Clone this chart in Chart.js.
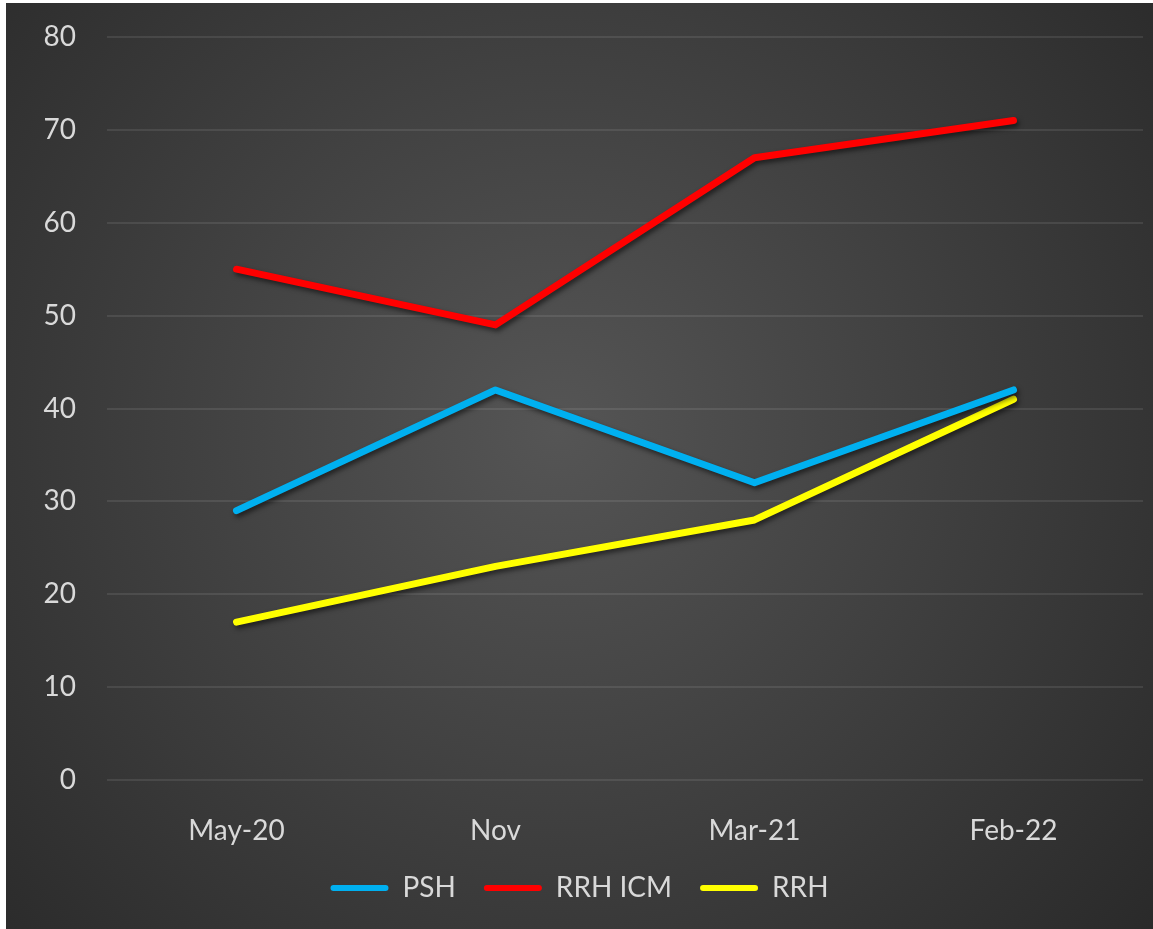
<!DOCTYPE html>
<html>
<head>
<meta charset="utf-8">
<script src="https://cdn.jsdelivr.net/npm/chart.js@4/dist/chart.umd.min.js"></script>
<style>
  html, body { margin: 0; padding: 0; background: #fff; }
  #wrap { position: absolute; left: 6px; top: 3px; width: 1147px; height: 926px; }
</style>
</head>
<body>
<div id="wrap"><canvas id="chart"></canvas></div>
<script>
const categories = ['May-20', 'Nov', 'Mar-21', 'Feb-22'];
const psh     = [29, 42, 32, 42];
const rrhIcm  = [55, 49, 67, 71];
const rrh     = [17, 23, 28, 41];

const textColor = '#d9d9d9';
const fontFamily = "Lato, 'Open Sans', sans-serif";

// dark radial background like the office theme
const backgroundPlugin = {
  id: 'radialBg',
  beforeDraw(chart) {
    const { ctx, width, height } = chart;
    const cx = width * 0.48, cy = height * 0.46;
    const g = ctx.createRadialGradient(cx, cy, 0, cx, cy, Math.hypot(width, height) * 0.55);
    g.addColorStop(0, '#555555');
    g.addColorStop(1, '#282828');
    ctx.save();
    ctx.fillStyle = g;
    ctx.fillRect(0, 0, width, height);
    ctx.restore();
  }
};

const shadowPlugin = {
  id: 'lineShadow',
  beforeDatasetDraw(chart) {
    const ctx = chart.ctx;
    ctx.save();
    ctx.shadowColor = 'rgba(0,0,0,0.55)';
    ctx.shadowBlur = 5;
    ctx.shadowOffsetX = 2;
    ctx.shadowOffsetY = 3;
  },
  afterDatasetDraw(chart) {
    chart.ctx.restore();
  }
};

function series(label, data, color) {
  return {
    label,
    data,
    borderColor: color,
    backgroundColor: color,
    borderWidth: 7,
    pointRadius: 0,
    pointHoverRadius: 0,
    borderCapStyle: 'round',
    borderJoinStyle: 'round',
    tension: 0,
  };
}

new Chart(document.getElementById('chart'), {
  type: 'line',
  data: {
    labels: categories,
    datasets: [
      series('PSH', psh, '#00b0f0'),
      series('RRH ICM', rrhIcm, '#ff0000'),
      series('RRH', rrh, '#ffff00'),
    ]
  },
  plugins: [backgroundPlugin, shadowPlugin],
  options: {
    responsive: true,
    maintainAspectRatio: false,
    animation: false,
    layout: { padding: { left: 10, right: 10, top: 34, bottom: 17 } },
    plugins: {
      tooltip: { enabled: false },
      legend: {
        position: 'bottom',
        labels: {
          color: textColor,
          font: { family: fontFamily, size: 28 },
          boxWidth: 58,
          boxHeight: 6,
          useBorderRadius: true,
          borderRadius: 3,
          padding: 28,
          generateLabels: (chart) =>
            Chart.defaults.plugins.legend.labels.generateLabels(chart)
              .map(item => ({ ...item, lineWidth: 0 })),
        }
      }
    },
    scales: {
      x: {
        offset: true,
        grid: { display: false },
        border: { display: false },
        ticks: { color: textColor, font: { family: fontFamily, size: 28 }, padding: 26, maxRotation: 0 },
        afterFit: (scale) => { scale.height = 66; }
      },
      y: {
        min: 0,
        max: 80,
        grid: { color: 'rgba(255,255,255,0.09)', lineWidth: 2, drawTicks: false },
        border: { display: false },
        ticks: { stepSize: 10, color: textColor, font: { family: fontFamily, size: 28 }, padding: 31 },
        afterFit: (scale) => {
          scale.width = 91;
          scale.paddingTop = 0;
          scale.paddingBottom = 0;
        }
      }
    }
  }
});
</script>
</body>
</html>
